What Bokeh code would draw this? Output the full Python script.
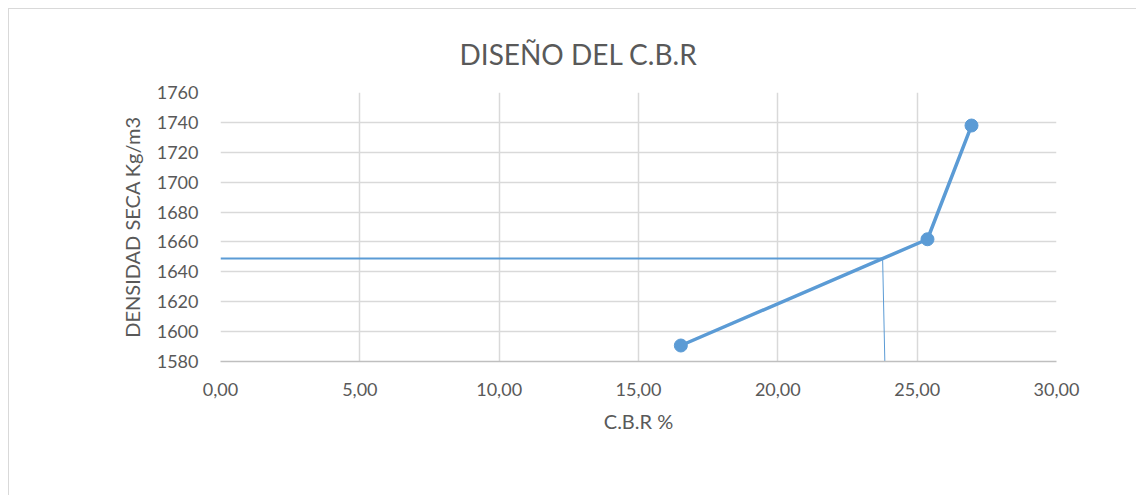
from bokeh.plotting import figure
from bokeh.models import Range1d, FixedTicker, CustomJSTickFormatter
from bokeh.embed import file_html
from bokeh.resources import INLINE

# Data
cbr = [16.52, 25.37, 26.95]
densidad = [1590.7, 1661.8, 1737.9]
ref_h_x = [0.0, 23.76]
ref_h_y = [1648.9, 1648.9]
ref_v_x = [23.76, 23.84]
ref_v_y = [1648.9, 1580.0]
x_ticks = [0, 5, 10, 15, 20, 25, 30]
y_ticks = [1580, 1600, 1620, 1640, 1660, 1680, 1700, 1720, 1740, 1760]
title_text = "DISEÑO DEL C.B.R"

FONT = "Lato"
BLUE = "#5b9bd5"
GRAY_TXT = "#595959"

p = figure(width=1128, height=487, output_backend="svg", toolbar_location=None,
           x_range=Range1d(0, 30), y_range=Range1d(1580, 1760),
           min_border_left=211, min_border_right=81, min_border_top=83, min_border_bottom=135,
           styles={"border-left": "1px solid #d9d9d9", "border-top": "1px solid #d9d9d9",
                   "margin-left": "8px", "margin-top": "8px"})
p.outline_line_color = None
p.background_fill_color = "white"
p.border_fill_color = "white"

p.title.text = title_text
p.title.align = "left"
p.title.offset = 239
p.title.text_font = FONT
p.title.text_font_size = "28px"
p.title.text_font_style = "normal"
p.title.text_color = GRAY_TXT
p.title.standoff = 44

# grids
p.xgrid.ticker = FixedTicker(ticks=x_ticks)
p.ygrid.ticker = FixedTicker(ticks=y_ticks)
p.xgrid.grid_line_color = "#d9d9d9"
p.ygrid.grid_line_color = "#d9d9d9"
p.xgrid.grid_line_width = 1.5
p.ygrid.grid_line_width = 1.5

fmt = CustomJSTickFormatter(code="return tick.toFixed(2).replace('.', ',');")

xa = p.xaxis[0]
xa.ticker = FixedTicker(ticks=x_ticks)
xa.formatter = fmt
xa.axis_line_color = "#bfbfbf"
xa.axis_line_width = 1.5
xa.major_tick_line_color = None
xa.minor_tick_line_color = None
xa.major_label_text_font = FONT
xa.major_label_text_font_size = "18px"
xa.major_label_text_color = GRAY_TXT
xa.major_label_standoff = 15
xa.axis_label = "C.B.R %"
xa.axis_label_text_font = FONT
xa.axis_label_text_font_size = "20px"
xa.axis_label_text_font_style = "normal"
xa.axis_label_text_color = GRAY_TXT
xa.axis_label_standoff = 10

ya = p.yaxis[0]
ya.ticker = FixedTicker(ticks=y_ticks)
ya.axis_line_color = None
ya.major_tick_line_color = None
ya.minor_tick_line_color = None
ya.major_label_text_font = FONT
ya.major_label_text_font_size = "18px"
ya.major_label_text_color = GRAY_TXT
ya.major_label_standoff = 16
ya.axis_label = "DENSIDAD SECA Kg/m3"
ya.axis_label_text_font = FONT
ya.axis_label_text_font_size = "20px"
ya.axis_label_text_font_style = "normal"
ya.axis_label_text_color = GRAY_TXT
ya.axis_label_standoff = 10

# reference lines
p.line(ref_h_x, ref_h_y, line_color=BLUE, line_width=2)
p.line(ref_v_x, ref_v_y, line_color=BLUE, line_width=1)

# series
p.line(cbr, densidad, line_color=BLUE, line_width=3.5)
p.scatter(cbr, densidad, size=13, fill_color=BLUE, line_color=BLUE)

open("out.html", "w").write(file_html(p, INLINE))
